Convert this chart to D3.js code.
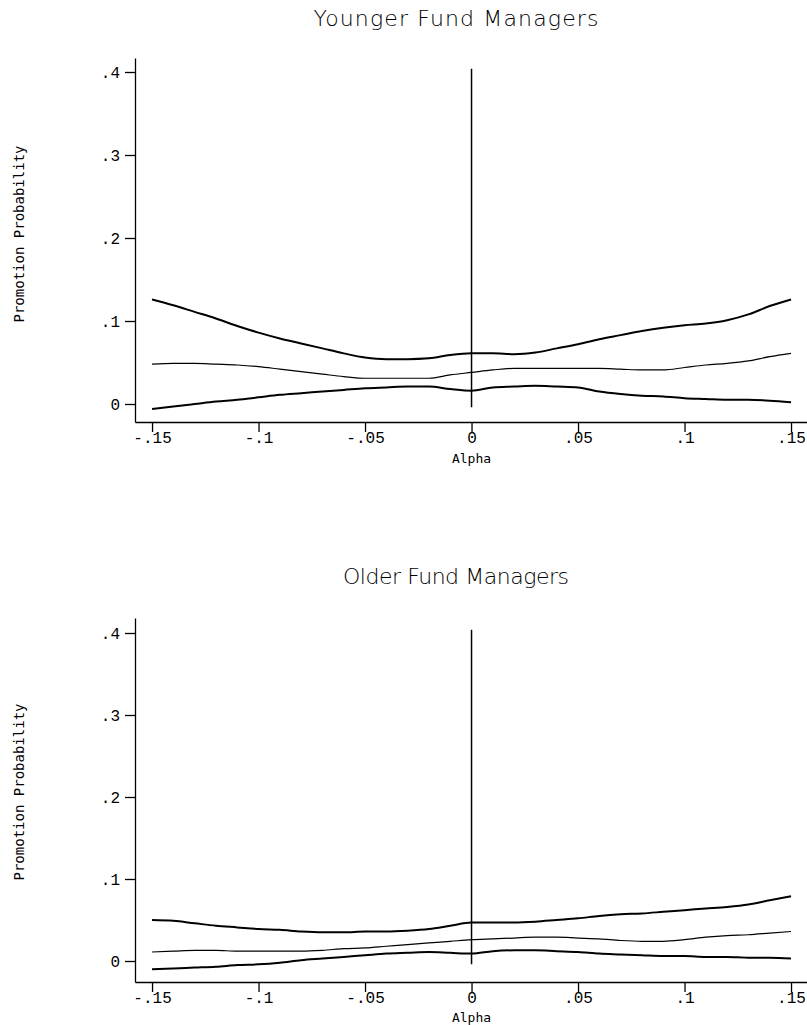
<!DOCTYPE html>
<html>
<head>
<meta charset="utf-8">
<script src="https://cdn.jsdelivr.net/npm/d3@7"></script>
<style>
  body { margin: 0; background: #fff; }
  .axis path, .axis line { stroke: #000; stroke-width: 1.3; }
  .axis text { font-family: "Liberation Mono", monospace; font-size: 16px; fill: #000; }
  .title { font-family: "DejaVu Sans", sans-serif; font-weight: 200; font-size: 22px; }
  .label { font-family: "DejaVu Sans Mono", monospace; font-size: 14px; }
</style>
</head>
<body>
<script>
// alpha grid shared by all series
var alpha = [-0.15, -0.14, -0.13, -0.12, -0.11, -0.10, -0.09, -0.08, -0.07, -0.06, -0.05,
  -0.04, -0.03, -0.02, -0.01, 0.00, 0.01, 0.02, 0.03, 0.04, 0.05, 0.06, 0.07, 0.08, 0.09,
  0.10, 0.11, 0.12, 0.13, 0.14, 0.15];

// Younger fund managers: upper band, estimate, lower band
var youngUpper = [0.126, 0.119, 0.111, 0.103, 0.094, 0.086, 0.079, 0.073, 0.067, 0.061, 0.056,
  0.054, 0.054, 0.055, 0.059, 0.061, 0.061, 0.060, 0.062, 0.067, 0.072, 0.078, 0.083, 0.088, 0.092,
  0.095, 0.097, 0.101, 0.108, 0.118, 0.126];
var youngMid = [0.048, 0.049, 0.049, 0.048, 0.047, 0.045, 0.042, 0.039, 0.036, 0.033, 0.031,
  0.031, 0.031, 0.031, 0.035, 0.038, 0.041, 0.043, 0.043, 0.043, 0.043, 0.043, 0.042, 0.041, 0.041,
  0.044, 0.047, 0.049, 0.052, 0.057, 0.061];
var youngLower = [-0.006, -0.003, 0.000, 0.003, 0.005, 0.008, 0.011, 0.013, 0.015, 0.017, 0.019,
  0.020, 0.021, 0.021, 0.018, 0.016, 0.020, 0.021, 0.022, 0.021, 0.020, 0.015, 0.012, 0.010, 0.009,
  0.007, 0.006, 0.005, 0.005, 0.004, 0.002];

// Older fund managers
var oldUpper = [0.050, 0.049, 0.046, 0.043, 0.041, 0.039, 0.038, 0.036, 0.035, 0.035, 0.036,
  0.036, 0.037, 0.039, 0.043, 0.047, 0.047, 0.047, 0.048, 0.050, 0.052, 0.055, 0.057, 0.058, 0.060,
  0.062, 0.064, 0.066, 0.069, 0.074, 0.079];
var oldMid = [0.011, 0.012, 0.013, 0.013, 0.012, 0.012, 0.012, 0.012, 0.013, 0.015, 0.016,
  0.018, 0.020, 0.022, 0.024, 0.026, 0.027, 0.028, 0.029, 0.029, 0.028, 0.027, 0.025, 0.024, 0.024,
  0.026, 0.029, 0.031, 0.032, 0.034, 0.036];
var oldLower = [-0.010, -0.009, -0.008, -0.007, -0.005, -0.004, -0.002, 0.001, 0.003, 0.005, 0.007,
  0.009, 0.010, 0.011, 0.010, 0.009, 0.012, 0.013, 0.013, 0.012, 0.011, 0.009, 0.008, 0.007, 0.006,
  0.006, 0.005, 0.005, 0.004, 0.004, 0.003];

// ticks
var xTicks = [-0.15, -0.1, -0.05, 0, 0.05, 0.1, 0.15];
var xTickLabels = ["-.15", "-.1", "-.05", "0", ".05", ".1", ".15"];
var yTicks = [0, 0.1, 0.2, 0.3, 0.4];
var yTickLabels = ["0", ".1", ".2", ".3", ".4"];

var titles = ["Younger Fund Managers", "Older Fund Managers"];

var svg = d3.select("body").append("svg")
  .attr("width", 807)
  .attr("height", 1025);

// panel layout (pixels)
var panels = [
  { title: titles[0], titleW: 285, series: [youngUpper, youngMid, youngLower],
    titleY: 26, top: 58, bottom: 422, zero: 404, step: 83, labelY: 234, alphaY: 463 },
  { title: titles[1], titleW: 226, series: [oldUpper, oldMid, oldLower],
    titleY: 584, top: 618, bottom: 982, zero: 961, step: 82, labelY: 792, alphaY: 1022 }
];

// x scale: -.15 at 152, .15 at 792, axis line from 135 to the right edge
var x = d3.scaleLinear()
  .domain([-0.158, 0.1575])
  .range([135, 807]);

panels.forEach(function (p) {
  var y = d3.scaleLinear()
    .domain([(p.zero - p.bottom) / (p.step * 10), (p.zero - p.top) / (p.step * 10)])
    .range([p.bottom, p.top]);

  // title
  svg.append("text")
    .attr("class", "title")
    .attr("x", 456 - p.titleW / 2)
    .attr("y", p.titleY)
    .attr("textLength", p.titleW)
    .attr("lengthAdjust", "spacing")
    .text(p.title);

  // y axis
  svg.append("g")
    .attr("class", "axis")
    .attr("transform", "translate(135,0)")
    .call(d3.axisLeft(y)
      .tickValues(yTicks)
      .tickFormat(function (d, i) { return yTickLabels[i]; })
      .tickSize(10)
      .tickSizeOuter(0)
      .tickPadding(5));

  // x axis
  svg.append("g")
    .attr("class", "axis")
    .attr("transform", "translate(0," + p.bottom + ")")
    .call(d3.axisBottom(x)
      .tickValues(xTicks)
      .tickFormat(function (d, i) { return xTickLabels[i]; })
      .tickSize(10)
      .tickSizeOuter(0)
      .tickPadding(0));

  // axis titles
  svg.append("text")
    .attr("class", "label")
    .attr("transform", "translate(24," + p.labelY + ") rotate(-90)")
    .attr("text-anchor", "middle")
    .text("Promotion Probability");

  svg.append("text")
    .attr("class", "label")
    .attr("x", x(0))
    .attr("y", p.alphaY)
    .attr("text-anchor", "middle")
    .style("font-size", "13px")
    .text("Alpha");

  // reference line at alpha = 0
  svg.append("line")
    .attr("x1", x(0)).attr("x2", x(0))
    .attr("y1", y(0.404)).attr("y2", y(-0.004))
    .attr("stroke", "#000")
    .attr("stroke-width", 1.5);

  // bands and estimate
  var line = d3.line()
    .x(function (d, i) { return x(alpha[i]); })
    .y(function (d) { return y(d); })
    .curve(d3.curveMonotoneX);

  p.series.forEach(function (s, k) {
    svg.append("path")
      .attr("d", line(s))
      .attr("fill", "none")
      .attr("stroke", "#000")
      .attr("stroke-width", k === 1 ? 1.2 : 2);
  });
});
</script>
</body>
</html>
